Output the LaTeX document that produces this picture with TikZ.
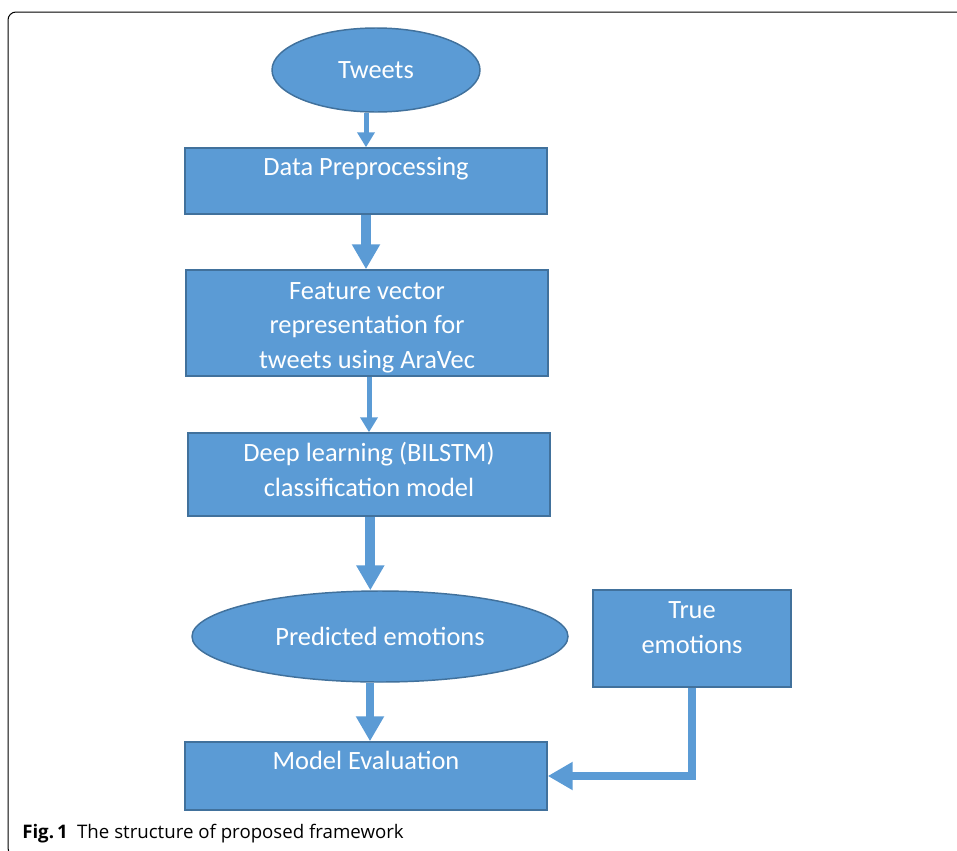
\documentclass[tikz,border=0pt]{standalone}
\usepackage{fontspec}
\setmainfont{Carlito}
\newfontfamily\capfont{Open Sans}
\usepackage{tikz}
\usetikzlibrary{shapes.geometric}
\usetikzlibrary {arrows.meta}
\usetikzlibrary{positioning}

\definecolor{boxfill}{HTML}{5B9BD5}
\definecolor{boxline}{HTML}{41719C}

\begin{document}
\begin{tikzpicture}[
x=0.75pt,
y=-0.75pt,
every node/.style={
    font=\fontsize{19.8}{26}\selectfont,
    text=white
},
stage/.style={
    rectangle,
    draw=boxline,
    fill=boxfill,
    line width=1.1pt,
    minimum width=271.5pt
},
blob/.style={
    ellipse,
    draw=boxline,
    fill=boxfill,
    line width=1.1pt
},
caption/.style={
    inner sep=0pt,
    align=center
},
thin link/.style={
    draw=boxfill,
    line width=3.75pt,
    -{Triangle[width=12.75pt,length=11.25pt]}
},
thick link/.style={
    draw=boxfill,
    line width=7.5pt,
    -{Triangle[width=20pt,length=18.75pt]}
}
]
\clip (0,0) rectangle (957,850);
\draw[line width=0.75pt, rounded corners=6pt] (8,12) rectangle (990,856);

\node[blob, minimum width=156pt, minimum height=63pt] (tweets) at (376,70) {Tweets};
\node[stage, minimum height=49.5pt] (prep) at (366,181) {};
\node[stage, minimum height=79.5pt] (feat) at (367,323) {};
\node[stage, minimum height=62.25pt] (deep) at (369,474.5) {};
\node[blob, minimum width=282pt, minimum height=68.25pt] (pred) at (380,636.5) {Predicted emotions};
\node[stage, minimum width=148.5pt, minimum height=72.75pt] (true) at (692,638.5) {};
\node[stage, minimum height=51pt] (eval) at (366,776) {};

\node[caption, below=7.5pt of prep.north] (prep-text) {Data Preprocessing};
\node[caption, below=9.5pt of feat.north] (feat-text)
    {Feature vector\\representation for\\tweets using AraVec};
\node[caption, below=7.5pt of deep.north] (deep-text)
    {Deep learning (BILSTM)\\classification model};
\node[caption, below=9pt of true.north] (true-text) {True\\emotions};
\node[caption, below=7.5pt of eval.north] (eval-text) {Model Evaluation};

\draw[thin link] (prep.north |- tweets.south) -- (prep.north);
\draw[thick link] (prep.south) -- (prep.south |- feat.north);
\draw[thin link] (deep.north |- feat.south) -- (deep.north);
\draw[thick link] ([xshift=1pt]deep.south) -- ([xshift=1pt]deep.south |- pred.north);
\draw[thick link, line width=6pt] ([xshift=3pt]eval.north |- pred.south) -- ([xshift=3pt]eval.north);
\draw[thick link, line width=6pt] (true.south) |- (eval.east);

\node[text=black, anchor=base west, inner sep=0pt,
    font=\capfont\fontsize{14}{16}\selectfont] (fig-caption) at (22,838)
    {\textbf{Fig.\,1}\enspace The structure of proposed framework};
\end{tikzpicture}
\end{document}
